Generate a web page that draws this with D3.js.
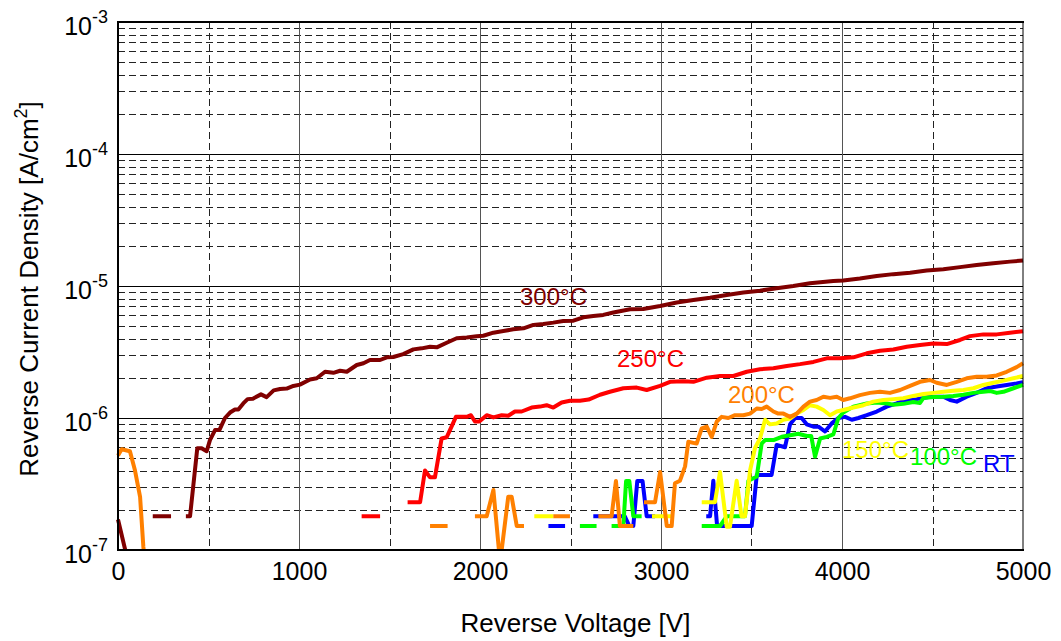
<!DOCTYPE html>
<html>
<head>
<meta charset="utf-8">
<script src="https://cdn.jsdelivr.net/npm/d3@7"></script>
<style>
  html, body { margin: 0; padding: 0; background: #fff; }
  svg { display: block; font-family: "Liberation Sans", Arial, Helvetica, sans-serif; }
</style>
</head>
<body>
<svg id="chart" width="1061" height="641"></svg>
<script>
// Reverse current density vs. reverse voltage at several temperatures.
// Each series: [voltage V, current density A/cm^2]; null marks a gap (no reading).
const voltTicks = [0, 1000, 2000, 3000, 4000, 5000];
const decadeTicks = [1e-7, 1e-6, 1e-5, 1e-4, 1e-3];
const decadeExps = ["-7", "-6", "-5", "-4", "-3"];

const sRT = [
  [2378,1.52e-7],[2470,1.52e-7],[2550,null],
  [2626,1.8e-7],[2800,1.8e-7],[2825,1.52e-7],[2847,1.52e-7],[2869,3.33e-7],[2898,3.33e-7],[2921,1.8e-7],[2967,1.8e-7],[3100,null],
  [3250,1.8e-7],[3271,1.8e-7],[3289,3.35e-7],[3310,1.52e-7],[3400,1.52e-7],[3501,1.52e-7],[3529,3.7e-7],[3556,3.7e-7],[3611,3.7e-7],
  [3639,6.25e-7],[3685,6.0e-7],[3713,8.95e-7],[3741,1.0e-6],[3777,1.0e-6],[3805,8.95e-7],[3842,8.6e-7],[3870,8.6e-7],[3906,7.9e-7],
  [3943,9.1e-7],[3980,1.0e-6],[4017,1.02e-6],[4054,9.7e-7],[4091,1.0e-6],[4137,1.05e-6],[4192,1.12e-6],[4247,1.22e-6],[4302,1.29e-6],
  [4357,1.37e-6],[4412,1.39e-6],[4486,1.45e-6],[4560,1.45e-6],[4597,1.37e-6],[4634,1.33e-6],[4689,1.45e-6],[4744,1.55e-6],[4799,1.68e-6],
  [4855,1.73e-6],[4910,1.78e-6],[4965,1.83e-6],[5000,1.87e-6]
];

const s100 = [
  [2552,1.52e-7],[2644,1.52e-7],[2690,null],
  [2727,1.52e-7],[2792,1.52e-7],[2807,3.33e-7],[2825,3.33e-7],[2847,1.8e-7],[2893,1.8e-7],[3000,null],
  [3225,1.52e-7],[3326,1.52e-7],[3363,1.8e-7],[3464,1.8e-7],[3483,3.35e-7],[3529,3.6e-7],[3556,6.4e-7],[3575,6.8e-7],[3621,6.8e-7],
  [3667,7.2e-7],[3713,7.4e-7],[3759,7.6e-7],[3805,7.3e-7],[3830,7.3e-7],[3851,5.1e-7],[3879,7.0e-7],[3916,7.2e-7],[3952,7.5e-7],
  [3980,1.0e-6],[4007,1.1e-6],[4063,1.22e-6],[4137,1.29e-6],[4192,1.31e-6],[4247,1.29e-6],[4284,1.26e-6],[4339,1.28e-6],[4394,1.32e-6],
  [4431,1.3e-6],[4450,1.42e-6],[4505,1.44e-6],[4560,1.45e-6],[4615,1.47e-6],[4671,1.5e-6],[4726,1.55e-6],[4781,1.58e-6],[4820,1.6e-6],
  [4855,1.55e-6],[4892,1.58e-6],[4947,1.68e-6],[5000,1.78e-6]
];

const s150 = [
  [2300,1.8e-7],[2405,1.8e-7],[2600,null],
  [2950,1.8e-7],[3060,1.8e-7],[3150,null],
  [3225,2.3e-7],[3298,2.3e-7],[3326,3.9e-7],[3363,1.5e-7],[3381,1.5e-7],[3418,3.35e-7],[3445,1.8e-7],[3464,1.8e-7],[3492,4.0e-7],
  [3519,5.9e-7],[3547,7.0e-7],[3575,9.7e-7],[3602,8.95e-7],[3639,9.1e-7],[3676,9.7e-7],[3713,9.9e-7],[3750,1.08e-6],[3787,1.15e-6],
  [3823,1.25e-6],[3860,1.22e-6],[3897,1.15e-6],[3934,1.05e-6],[3971,1.12e-6],[4007,1.15e-6],[4063,1.2e-6],[4118,1.25e-6],[4173,1.33e-6],
  [4229,1.37e-6],[4284,1.39e-6],[4339,1.41e-6],[4394,1.47e-6],[4450,1.52e-6],[4505,1.55e-6],[4560,1.58e-6],[4615,1.61e-6],[4671,1.63e-6],
  [4726,1.68e-6],[4781,1.78e-6],[4836,1.85e-6],[4892,1.92e-6],[4947,2.0e-6],[5000,2.08e-6]
];

const s200 = [
  [0,5.2e-7],[20,5.8e-7],[66,5.6e-7],[94,4.0e-7],[122,2.53e-7],[140,1.06e-7],[150,0.8e-7],[400,null],
  [1724,1.52e-7],[1821,1.52e-7],[1900,null],
  [1972,1.8e-7],[2037,1.8e-7],[2074,2.85e-7],[2111,0.8e-7],[2156,2.53e-7],[2175,2.53e-7],[2203,1.52e-7],[2243,1.52e-7],[2300,null],
  [2405,1.8e-7],[2497,1.8e-7],[2550,null],
  [2654,1.8e-7],[2727,1.8e-7],[2751,3.33e-7],[2773,1.52e-7],[2847,1.52e-7],[2880,null],
  [2906,2.3e-7],[2967,2.3e-7],[2995,3.9e-7],[3032,1.52e-7],[3059,1.52e-7],[3077,3.2e-7],[3105,3.35e-7],[3133,4.3e-7],[3151,6.6e-7],
  [3197,6.4e-7],[3225,8.35e-7],[3253,8.6e-7],[3280,7.2e-7],[3308,9.4e-7],[3335,1.02e-6],[3372,1.0e-6],[3409,1.05e-6],[3455,1.05e-6],
  [3492,1.08e-6],[3529,1.18e-6],[3556,1.17e-6],[3584,1.22e-6],[3621,1.12e-6],[3648,1.08e-6],[3676,1.08e-6],[3713,1.02e-6],[3750,1.08e-6],
  [3787,1.22e-6],[3823,1.33e-6],[3860,1.37e-6],[3897,1.45e-6],[3934,1.42e-6],[3971,1.45e-6],[4007,1.37e-6],[4044,1.41e-6],[4099,1.49e-6],
  [4155,1.55e-6],[4210,1.58e-6],[4265,1.55e-6],[4321,1.63e-6],[4376,1.75e-6],[4431,1.88e-6],[4486,1.94e-6],[4523,1.85e-6],[4579,1.78e-6],
  [4634,1.88e-6],[4689,2.0e-6],[4744,2.05e-6],[4799,2.05e-6],[4855,2.1e-6],[4910,2.24e-6],[4965,2.43e-6],[5000,2.6e-6]
];

const s250 = [
  [1346,1.8e-7],[1448,1.8e-7],[1520,null],
  [1600,2.3e-7],[1669,2.3e-7],[1696,4.0e-7],[1724,3.55e-7],[1751,3.55e-7],[1788,7.0e-7],[1816,7.15e-7],[1834,8.1e-7],[1867,1.02e-6],
  [1927,1.02e-6],[1950,1.05e-6],[1972,0.94e-6],[1996,0.94e-6],[2037,1.05e-6],[2074,1.01e-6],[2120,1.05e-6],[2156,1.04e-6],[2193,1.12e-6],
  [2230,1.12e-6],[2285,1.2e-6],[2331,1.22e-6],[2368,1.25e-6],[2405,1.2e-6],[2451,1.31e-6],[2497,1.35e-6],[2552,1.35e-6],[2600,1.38e-6],
  [2663,1.5e-6],[2718,1.58e-6],[2792,1.68e-6],[2866,1.7e-6],[2921,1.63e-6],[2995,1.75e-6],[3050,1.88e-6],[3123,1.9e-6],[3179,1.88e-6],
  [3253,2.02e-6],[3326,2.08e-6],[3400,2.08e-6],[3474,2.24e-6],[3547,2.34e-6],[3621,2.38e-6],[3695,2.48e-6],[3768,2.56e-6],[3842,2.66e-6],
  [3916,2.83e-6],[3989,2.83e-6],[4063,2.88e-6],[4137,3.09e-6],[4210,3.23e-6],[4284,3.3e-6],[4358,3.47e-6],[4431,3.57e-6],[4505,3.67e-6],
  [4579,3.63e-6],[4652,3.9e-6],[4707,4.17e-6],[4781,4.3e-6],[4855,4.3e-6],[4928,4.43e-6],[5000,4.55e-6]
];

const s300 = [
  [0,1.7e-7],[40,1.0e-7],[60,0.8e-7],[100,null],
  [192,1.8e-7],[293,1.8e-7],[330,null],
  [375,1.8e-7],[398,1.8e-7],[438,5.9e-7],[462,5.9e-7],[490,5.6e-7],[508,6.8e-7],[536,8.1e-7],[560,8.1e-7],[591,1.0e-6],[619,1.1e-6],
  [646,1.16e-6],[665,1.16e-6],[692,1.29e-6],[716,1.39e-6],[745,1.4e-6],[790,1.51e-6],[821,1.44e-6],[860,1.62e-6],[895,1.66e-6],
  [932,1.67e-6],[969,1.75e-6],[1005,1.79e-6],[1042,1.9e-6],[1061,1.96e-6],[1098,2.0e-6],[1144,2.24e-6],[1190,2.2e-6],[1227,2.28e-6],
  [1264,2.24e-6],[1319,2.52e-6],[1356,2.6e-6],[1392,2.75e-6],[1448,2.75e-6],[1485,2.88e-6],[1521,2.9e-6],[1576,3.05e-6],[1632,3.31e-6],
  [1678,3.37e-6],[1724,3.47e-6],[1761,3.43e-6],[1816,3.72e-6],[1871,4.02e-6],[1927,4.08e-6],[1982,4.17e-6],[2018,4.2e-6],[2074,4.43e-6],
  [2129,4.56e-6],[2184,4.7e-6],[2240,4.78e-6],[2295,5.07e-6],[2350,5.16e-6],[2405,5.28e-6],[2460,5.43e-6],[2516,5.46e-6],[2571,5.79e-6],
  [2626,5.93e-6],[2681,6.04e-6],[2737,6.3e-6],[2829,6.66e-6],[2902,6.7e-6],[2995,7.06e-6],[3087,7.49e-6],[3179,7.83e-6],[3271,8.15e-6],
  [3363,8.55e-6],[3455,8.93e-6],[3547,9.22e-6],[3639,9.6e-6],[3731,1.0e-5],[3823,1.05e-5],[3952,1.09e-5],[4007,1.1e-5],[4099,1.14e-5],
  [4192,1.19e-5],[4284,1.23e-5],[4376,1.26e-5],[4468,1.31e-5],[4560,1.34e-5],[4652,1.39e-5],[4744,1.44e-5],[4836,1.49e-5],[4928,1.53e-5],
  [5000,1.56e-5]
];

// Drawing order: low temperature first, hottest on top.
const seriesData = [sRT, s100, s150, s200, s250, s300];
const seriesNames = ["RT", "100°C", "150°C", "200°C", "250°C", "300°C"];
const seriesColors = ["#0000ff", "#00ff00", "#ffff00", "#ff8000", "#ff0000", "#800000"];
// Label anchors (left edge / baseline) in data units
const labelAnchors = [[4779, 3.9e-7], [4376, 4.4e-7], [4000, 4.98e-7], [3370, 1.3e-6], [2757, 2.43e-6], [2221, 7.2e-6]];

const svg = d3.select("#chart");
const pLeft = 118, pRight = 1023, pTop = 22, pBottom = 550;

const x = d3.scaleLinear().domain([0, 5000]).range([pLeft, pRight]);
const y = d3.scaleLog().domain([1e-7, 1e-3]).range([pBottom, pTop]);

const isDecade = d => Math.abs(Math.log10(d) - Math.round(Math.log10(d))) < 1e-9;

// Grid
const grid = svg.append("g");
grid.selectAll("line.hg").data(y.ticks()).join("line")
  .attr("x1", pLeft).attr("x2", pRight)
  .attr("y1", d => Math.round(y(d)) + 0.5).attr("y2", d => Math.round(y(d)) + 0.5)
  .attr("stroke", d => isDecade(d) ? "#000" : "#222")
  .attr("stroke-width", 1)
  .attr("stroke-dasharray", d => isDecade(d) ? null : "7,4");

grid.selectAll("line.vg").data(d3.range(500, 5000, 500)).join("line")
  .attr("x1", d => Math.round(x(d)) + 0.5).attr("x2", d => Math.round(x(d)) + 0.5)
  .attr("y1", pTop).attr("y2", pBottom)
  .attr("stroke", d => d % 1000 === 0 ? "#555" : "#222")
  .attr("stroke-width", 1)
  .attr("stroke-dasharray", d => d % 1000 === 0 ? null : "7,4");

// Data
svg.append("clipPath").attr("id", "plotClip")
  .append("rect").attr("x", pLeft - 3).attr("y", pTop).attr("width", pRight - pLeft + 6).attr("height", pBottom - pTop);

const line = d3.line()
  .defined(d => d[1] != null)
  .x(d => x(d[0]))
  .y(d => y(d[1]));

svg.append("g").attr("clip-path", "url(#plotClip)")
  .selectAll("path").data(seriesData).join("path")
  .attr("d", line)
  .attr("fill", "none")
  .attr("stroke", (d, i) => seriesColors[i])
  .attr("stroke-width", 4)
  .attr("stroke-linejoin", "round")
  .attr("stroke-linecap", "butt");

// Frame
svg.append("rect")
  .attr("x", pLeft).attr("y", pTop).attr("width", pRight - pLeft).attr("height", pBottom - pTop)
  .attr("fill", "none").attr("stroke", "#000").attr("stroke-width", 1);
svg.append("line").attr("x1", pLeft).attr("x2", pLeft).attr("y1", pTop - 1).attr("y2", pBottom + 1)
  .attr("stroke", "#000").attr("stroke-width", 2);
svg.append("line").attr("x1", pLeft - 1).attr("x2", pRight + 1).attr("y1", pBottom).attr("y2", pBottom)
  .attr("stroke", "#000").attr("stroke-width", 2);
svg.append("line").attr("x1", pLeft - 1).attr("x2", pRight + 1).attr("y1", pTop).attr("y2", pTop)
  .attr("stroke", "#000").attr("stroke-width", 2);

// X axis labels
const xAxis = d3.axisBottom(x).tickValues(voltTicks).tickSize(0).tickPadding(12).tickFormat(d3.format("d"));
const gx = svg.append("g").attr("transform", `translate(0,${pBottom})`).call(xAxis);
gx.select(".domain").remove();
gx.selectAll("text").attr("font-size", 25).attr("fill", "#000")
  .attr("font-family", "'Liberation Sans', Arial, sans-serif");

// Y axis labels: 10 with superscript exponent
const ylab = svg.append("g").selectAll("text").data(decadeTicks).join("text")
  .attr("x", 108).attr("y", d => y(d) + 13)
  .attr("text-anchor", "end")
  .attr("font-size", 25).attr("fill", "#000");
ylab.append("tspan").text("10");
ylab.append("tspan").attr("dy", -12).attr("font-size", 18).text((d, i) => decadeExps[i]);

// Axis titles
svg.append("text")
  .attr("x", (pLeft + pRight) / 2 + 5).attr("y", 632)
  .attr("text-anchor", "middle").attr("font-size", 26).attr("fill", "#000")
  .text("Reverse Voltage [V]");

const yt = svg.append("text")
  .attr("transform", "translate(38,289) rotate(-90)")
  .attr("text-anchor", "middle").attr("font-size", 26).attr("fill", "#000");
yt.append("tspan").text("Reverse Current Density [A/cm");
yt.append("tspan").attr("dy", -11).attr("font-size", 18).text("2");
yt.append("tspan").attr("dy", 11).text("]");

// Curve labels
svg.append("g").selectAll("text").data(seriesNames).join("text")
  .attr("x", (d, i) => x(labelAnchors[i][0]))
  .attr("y", (d, i) => y(labelAnchors[i][1]))
  .attr("font-size", 24)
  .attr("fill", (d, i) => seriesColors[i])
  .text(d => d);
</script>
</body>
</html>
